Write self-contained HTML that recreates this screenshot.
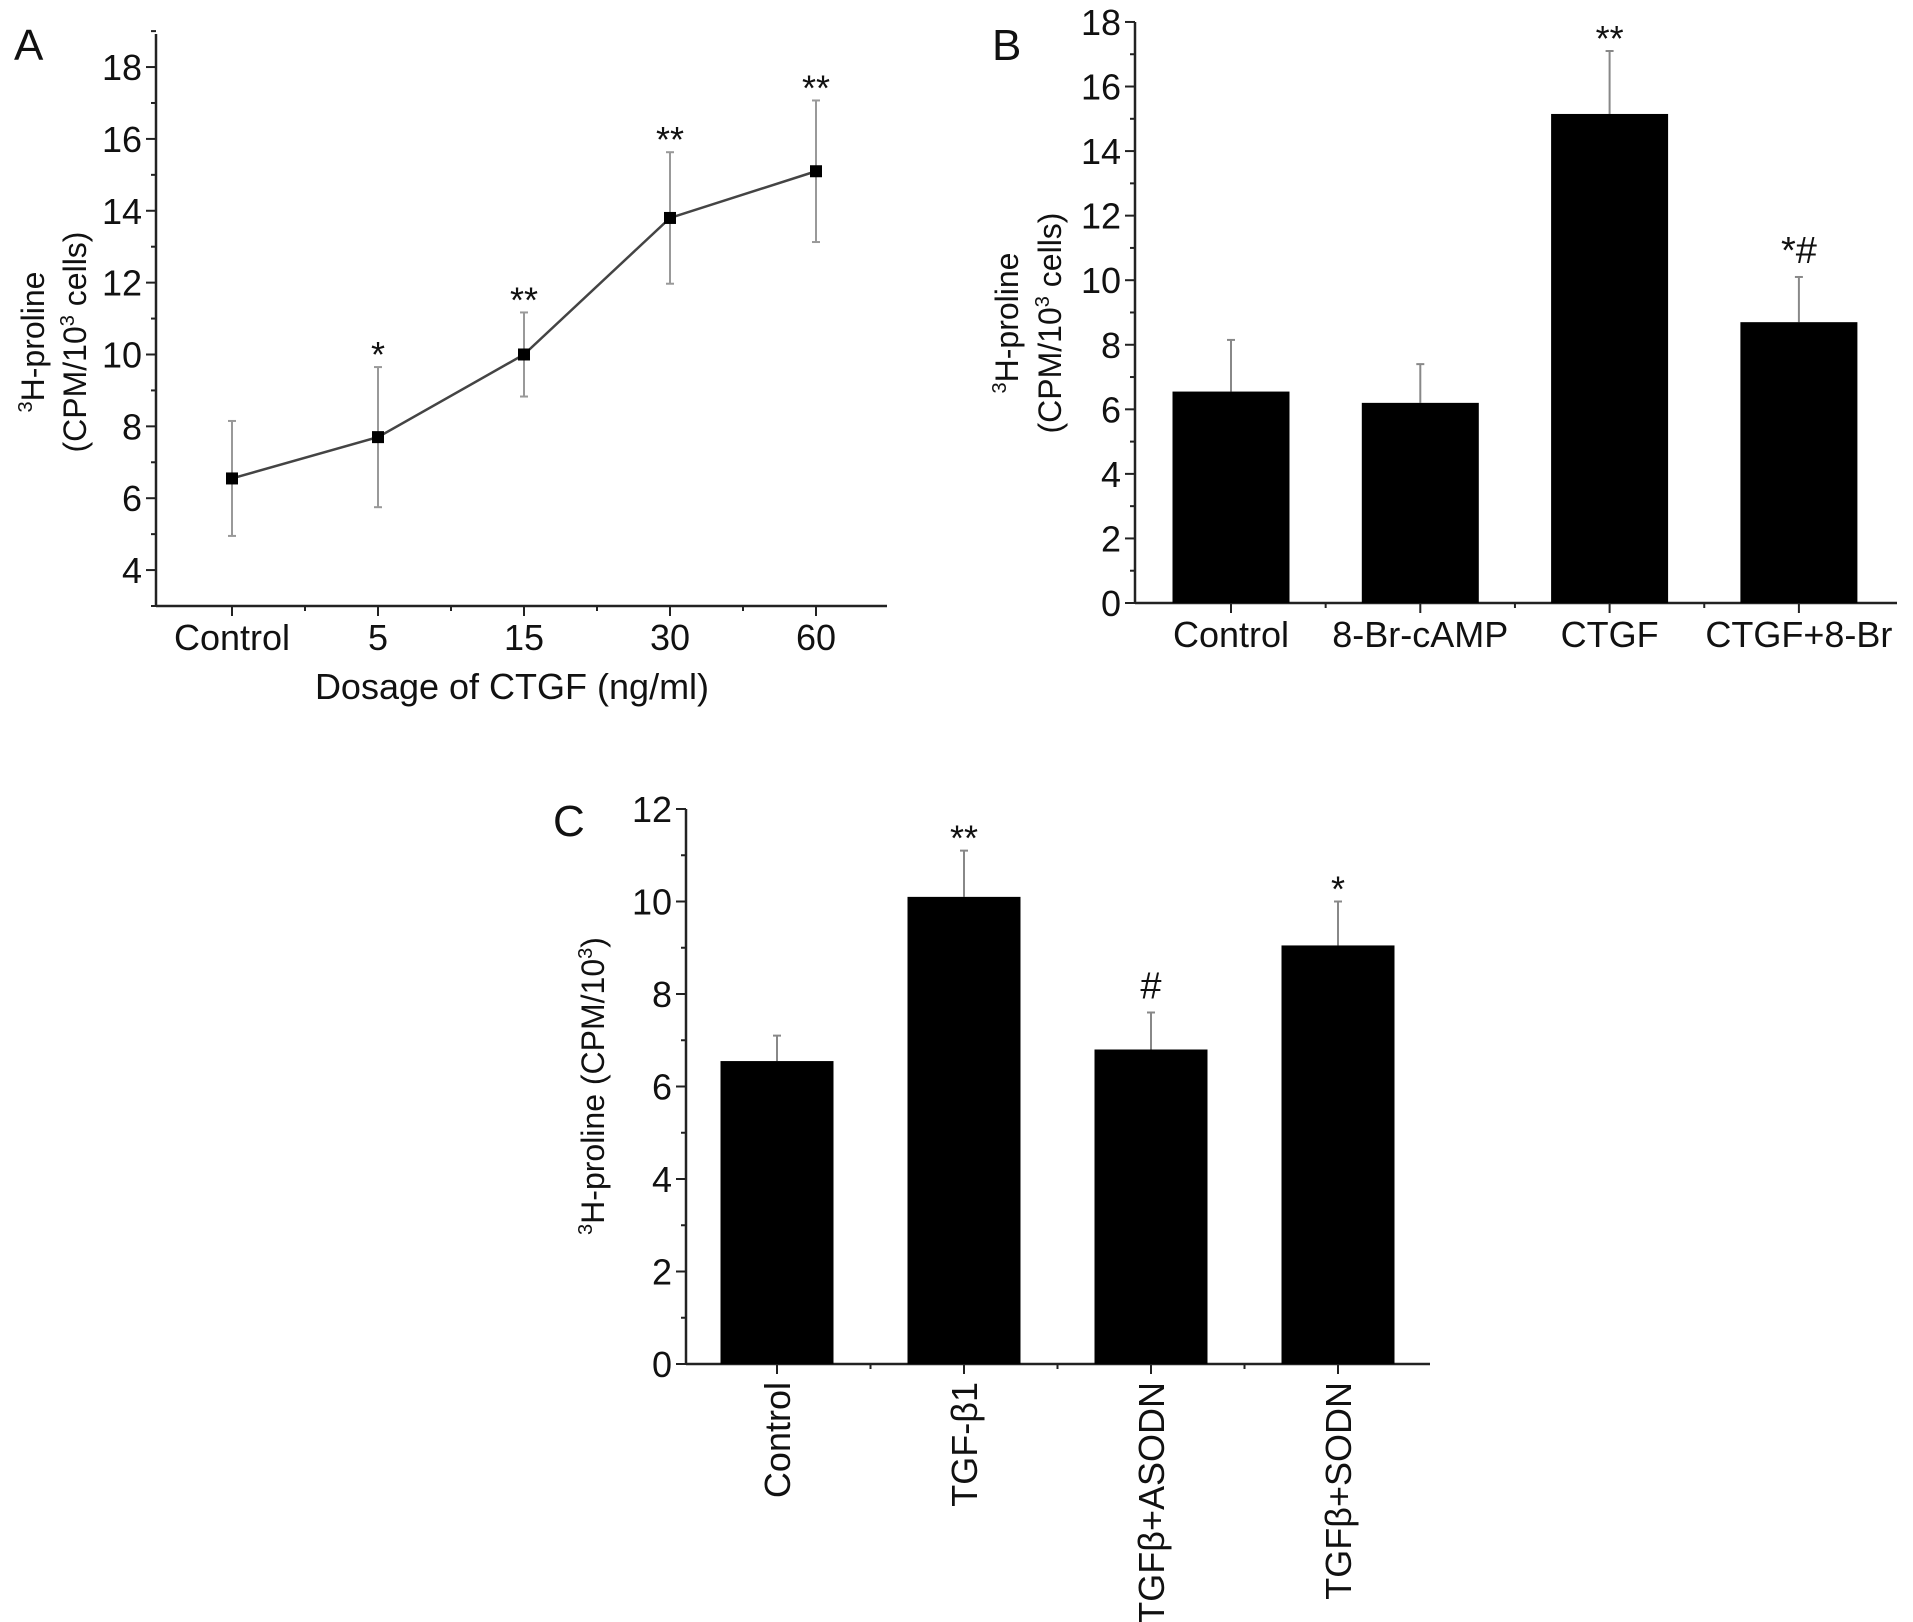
<!DOCTYPE html>
<html><head><meta charset="utf-8"><style>
html,body{margin:0;padding:0;background:#fff}
svg{display:block}
text{font-family:"Liberation Sans",Arial,sans-serif;fill:#111}
</style></head><body>
<svg id="fig" width="1913" height="1622" viewBox="0 0 1913 1622" xmlns="http://www.w3.org/2000/svg"></svg>
<script>
// Panel A data
const catsA = ["Control","5","15","30","60"];
const valsA = [6.55, 7.7, 10.0, 13.8, 15.1];
const errA = [1.6, 1.95, 1.17, 1.83, 1.97];
const sigA = ["", "*", "**", "**", "**"];
const ticksA = [4,6,8,10,12,14,16,18];
// Panel B data
const catsB = ["Control","8-Br-cAMP","CTGF","CTGF+8-Br"];
const valsB = [6.55, 6.2, 15.15, 8.7];
const errB = [1.6, 1.2, 1.95, 1.4];
const sigB = ["", "", "**", "*#"];
const ticksB = [0,2,4,6,8,10,12,14,16,18];
// Panel C data
const catsC = ["Control","TGF-\u03b21","TGF\u03b2+ASODN","TGF\u03b2+SODN"];
const valsC = [6.55, 10.1, 6.8, 9.05];
const errC = [0.55, 1.0, 0.8, 0.95];
const sigC = ["", "**", "#", "*"];
const ticksC = [0,2,4,6,8,10,12];

const NS="http://www.w3.org/2000/svg";
const svg=document.getElementById('fig');
function mk(tag,attrs,parent,txt){const e=document.createElementNS(NS,tag);for(const k in attrs)e.setAttribute(k,attrs[k]);if(txt!==undefined)e.textContent=txt;(parent||svg).appendChild(e);return e;}
const FS=36;
function panel(o){
  const g=mk('g',{});
  
  
  const y=v=>o.y0-(v-o.vmin)*o.ppu;
  const x=i=>o.x0c+i*o.step;
  const ya=mk('line',{x1:o.ax,y1:o.axTop,x2:o.ax,y2:o.y0,stroke:'#222','stroke-width':2.5},g);
  
  const xa=mk('line',{x1:o.ax,y1:o.y0,x2:o.axRight,y2:o.y0,stroke:'#222','stroke-width':2.5},g);
  
  for(let v=Math.ceil(o.vmin);v<=o.vmax;v++){
    const major=o.ticks.indexOf(v)>=0;
    mk('line',{x1:o.ax,y1:y(v),x2:o.ax-(major?10:5),y2:y(v),stroke:'#222','stroke-width':2},g);
  }
  o.ticks.forEach(v=>{
    const t=mk('text',{x:o.ax-14,y:y(v)+13,'text-anchor':'end','font-size':FS},g,String(v));
    
  });
  for(let i=0;i<o.cats.length;i++){
    mk('line',{x1:x(i),y1:o.y0,x2:x(i),y2:o.y0+10,stroke:'#222','stroke-width':2},g);
    if(i<o.cats.length-1) mk('line',{x1:x(i+0.5),y1:o.y0,x2:x(i+0.5),y2:o.y0+5,stroke:'#222','stroke-width':2},g);
  }
  o.cats.forEach((c,i)=>{
    let t;
    if(o.rot){
      t=mk('text',{x:0,y:0,'text-anchor':'end','font-size':FS,transform:`translate(${x(i)+13},${o.y0+18}) rotate(-90)`},g,c);
    } else {
      t=mk('text',{x:x(i),y:o.y0+44,'text-anchor':'middle','font-size':FS},g,c);
    }
    
  });
  if(o.line){
    const pts=o.vals.map((v,i)=>x(i)+','+y(v)).join(' ');
    const pl=mk('polyline',{points:pts,fill:'none',stroke:'#444','stroke-width':2.5},g);
    
    o.vals.forEach((v,i)=>{
      const e=mk('line',{x1:x(i),y1:y(v-o.err[i]),x2:x(i),y2:y(v+o.err[i]),stroke:'#999','stroke-width':2},g);
      
      mk('line',{x1:x(i)-4,y1:y(v-o.err[i]),x2:x(i)+4,y2:y(v-o.err[i]),stroke:'#999','stroke-width':2},g);
      mk('line',{x1:x(i)-4,y1:y(v+o.err[i]),x2:x(i)+4,y2:y(v+o.err[i]),stroke:'#999','stroke-width':2},g);
      const p=mk('rect',{x:x(i)-6,y:y(v)-6,width:12,height:12,fill:'#000'},g);
      
    });
  } else {
    o.vals.forEach((v,i)=>{
      const e=mk('line',{x1:x(i),y1:y(v),x2:x(i),y2:y(v+o.err[i]),stroke:'#888','stroke-width':2},g);
      
      mk('line',{x1:x(i)-4,y1:y(v+o.err[i]),x2:x(i)+4,y2:y(v+o.err[i]),stroke:'#888','stroke-width':2},g);
      const b=mk('rect',{x:x(i)-o.bw/2,y:y(v),width:o.bw,height:o.y0-y(v),fill:'#000'},g);
      
    });
  }
  o.sig.forEach((s,i)=>{
    if(!s)return;
    const hash=s.indexOf('#')>=0;
    const t=mk('text',{x:x(i),y:y(o.vals[i]+o.err[i])-(hash?14:0),'text-anchor':'middle','font-size':hash?38:36},g,s);
    
  });
  const L=mk('text',{x:o.lx,y:o.ly,'font-size':44},g,o.letter);
  
  return {g,y,x};
}

const A=panel({name:'panel-a',cats:catsA,vals:valsA,err:errA,sig:sigA,ticks:ticksA,line:true,
  ax:156,axTop:34,axRight:887,y0:606,vmin:3,vmax:19,ppu:35.93,x0c:232,step:146,letter:'A',lx:14,ly:60});
let t=mk('text',{x:0,y:0,'text-anchor':'middle','font-size':32,transform:'translate(44,342) rotate(-90)'},A.g);

mk('tspan',{'font-size':20,dy:-12},t,'3');mk('tspan',{dy:12},t,'H-proline');
t=mk('text',{x:0,y:0,'text-anchor':'middle','font-size':32,transform:'translate(86,342) rotate(-90)'},A.g);

mk('tspan',{},t,'(CPM/10');mk('tspan',{'font-size':20,dy:-12},t,'3');mk('tspan',{dy:12},t,' cells)');
t=mk('text',{x:512,y:699,'text-anchor':'middle','font-size':FS},A.g,'Dosage of CTGF (ng/ml)');


const B=panel({name:'panel-b',cats:catsB,vals:valsB,err:errB,sig:sigB,ticks:ticksB,line:false,
  ax:1135,axTop:22,axRight:1897,y0:603,vmin:0,vmax:18,ppu:32.28,x0c:1231,step:189.3,bw:117,letter:'B',lx:992,ly:60});
t=mk('text',{x:0,y:0,'text-anchor':'middle','font-size':32,transform:'translate(1018,323) rotate(-90)'},B.g);

mk('tspan',{'font-size':20,dy:-12},t,'3');mk('tspan',{dy:12},t,'H-proline');
t=mk('text',{x:0,y:0,'text-anchor':'middle','font-size':32,transform:'translate(1061,323) rotate(-90)'},B.g);

mk('tspan',{},t,'(CPM/10');mk('tspan',{'font-size':20,dy:-12},t,'3');mk('tspan',{dy:12},t,' cells)');

const C=panel({name:'panel-c',cats:catsC,vals:valsC,err:errC,sig:sigC,ticks:ticksC,line:false,rot:true,
  ax:686,axTop:809,axRight:1430,y0:1364,vmin:0,vmax:12,ppu:46.25,x0c:777,step:187,bw:113,letter:'C',lx:553,ly:836});
t=mk('text',{x:0,y:0,'text-anchor':'middle','font-size':32,transform:'translate(604,1086) rotate(-90)'},C.g);

mk('tspan',{'font-size':20,dy:-12},t,'3');mk('tspan',{dy:12},t,'H-proline (CPM/10');mk('tspan',{'font-size':20,dy:-12},t,'3');mk('tspan',{dy:12},t,')');
</script>
</body></html>
